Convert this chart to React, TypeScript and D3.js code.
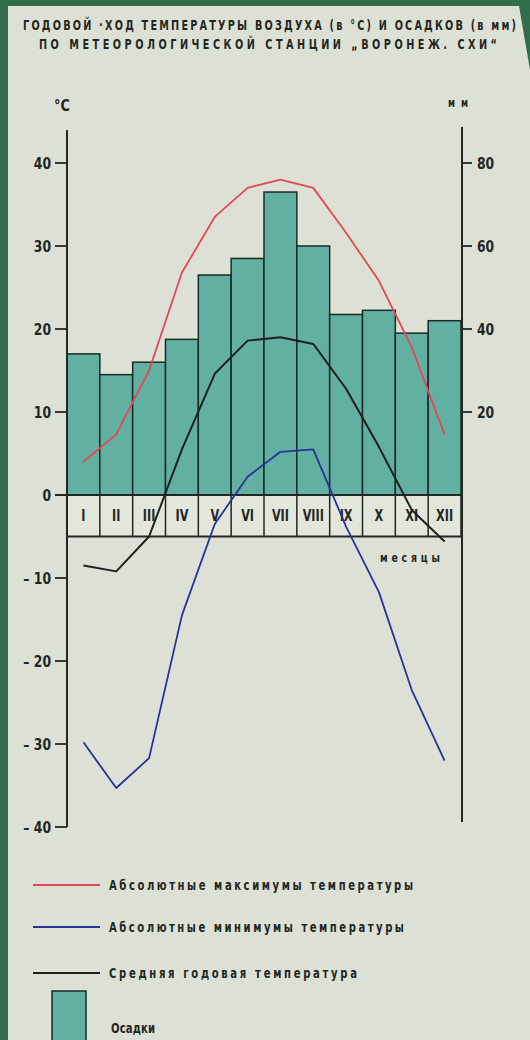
import React from "react";
import * as d3 from "d3";

const months = ["I", "II", "III", "IV", "V", "VI", "VII", "VIII", "IX", "X", "XI", "XII"];
const precipitation = [34, 29, 32, 37.5, 53, 57, 73, 60, 43.5, 44.5, 39, 42];
const absMax = [4, 7.3, 15, 26.8, 33.5, 37, 38, 37, 31.6, 25.8, 17.8, 7.3];
const absMin = [-29.8, -35.3, -31.7, -14.5, -3.5, 2.2, 5.2, 5.5, -3.8, -11.7, -23.5, -32];
const meanTemp = [-8.5, -9.2, -5, 5.5, 14.6, 18.6, 19, 18.2, 12.8, 5.8, -1.8, -5.6];
const tempTicks = [-40, -30, -20, -10, 0, 10, 20, 30, 40];
const tempTickLabels = ["– 40", "– 30", "– 20", "– 10", "0", "10", "20", "30", "40"];
const precTicks = [20, 40, 60, 80];
const titleLines = [
  "ГОДОВОЙ ·ХОД ТЕМПЕРАТУРЫ ВОЗДУХА (в °С) И ОСАДКОВ (в мм)",
  "ПО МЕТЕОРОЛОГИЧЕСКОЙ СТАНЦИИ „ВОРОНЕЖ. СХИ“",
];
const legendItems = [
  { label: "Абсолютные максимумы температуры", key: "max" },
  { label: "Абсолютные минимумы температуры", key: "min" },
  { label: "Средняя годовая температура", key: "mean" },
  { label: "Осадки", key: "prec" },
];

const FONT = "'DejaVu Sans','Liberation Sans',sans-serif";
const INK = "#232723";
const PAPER = "#dde1d5";
const BAR = "#62b0a2";
const RED = "#e2475c";
const BLUE = "#27339a";
const BLACK = "#1f1f1f";

type CTProps = {
  x: number;
  y: number;
  size: number;
  sx?: number;
  len?: number;
  anchor?: "start" | "middle" | "end";
  children: React.ReactNode;
};

function CText({ x, y, size, sx = 0.72, len, anchor = "start", children }: CTProps) {
  const extra: any = {};
  if (len) {
    extra.textLength = len / sx;
    extra.lengthAdjust = "spacing";
  }
  return (
    <text
      transform={`translate(${x},${y}) scale(${sx},1)`}
      fontSize={size}
      fontWeight={700}
      fill={INK}
      textAnchor={anchor}
      {...extra}
    >
      {children}
    </text>
  );
}

export default function App() {
  const x = d3.scaleBand<string>().domain(months).range([67, 461]).paddingInner(0).paddingOuter(0);
  const yT = d3.scaleLinear().domain([-40, 40]).range([827, 163]);
  const yP = d3.scaleLinear().domain([0, 80]).range([yT(0), yT(40)]);
  const cx = (i: number) => (x(months[i]) as number) + x.bandwidth() / 2;

  const line = d3
    .line<number>()
    .x((_, i) => cx(i))
    .y((d) => yT(d))
    .curve(d3.curveLinear);

  const x0 = x.range()[0];
  const x1 = x.range()[1];
  const bandBottom = yT(-5);

  const legendY = [885, 927, 973];
  const legendColors = [RED, BLUE, BLACK];
  const legendLens = [304, 295, 248];

  return (
    <svg
      width={530}
      height={1040}
      style={{ position: "absolute", left: 0, top: 0 }}
      fontFamily={FONT}
    >
      <rect x={0} y={0} width={530} height={1040} fill="#2f6d4b" />
      <polygon points="8,6 519,6 530,70 530,1040 8,1040" fill={PAPER} />

      {/* title */}
      <CText x={23} y={30} size={13.5} len={493}>{titleLines[0]}</CText>
      <CText x={39} y={49} size={13.5} len={458}>{titleLines[1]}</CText>

      {/* axis unit labels */}
      <CText x={62} y={111} size={16} anchor="middle" sx={0.8}>°C</CText>
      <CText x={458} y={107} size={12} anchor="middle" len={20}>мм</CText>

      {/* bars */}
      {precipitation.map((p, i) => (
        <rect
          key={"b" + i}
          x={x(months[i])}
          y={yP(p)}
          width={x.bandwidth()}
          height={yP(0) - yP(p)}
          fill={BAR}
          stroke="#1b2a26"
          strokeWidth={1.5}
        />
      ))}

      {/* month band */}
      <rect x={x0} y={yT(0)} width={x1 - x0} height={bandBottom - yT(0)} fill="#e3e6db" />
      {months.map((m, i) => (
        <line
          key={"mv" + i}
          x1={x(m)}
          x2={x(m)}
          y1={yT(0)}
          y2={bandBottom}
          stroke={INK}
          strokeWidth={1.5}
        />
      ))}
      <line x1={x1} x2={x1} y1={yT(0)} y2={bandBottom} stroke={INK} strokeWidth={1.5} />
      <line x1={x0} x2={x1} y1={bandBottom} y2={bandBottom} stroke={INK} strokeWidth={1.8} />
      <line x1={55} x2={x1} y1={yT(0)} y2={yT(0)} stroke={INK} strokeWidth={1.8} />
      {months.map((m, i) => (
        <CText key={"ml" + i} x={cx(i)} y={yT(0) + 26} size={15} anchor="middle" sx={0.75}>
          {m}
        </CText>
      ))}
      <CText x={410} y={562} size={13} anchor="middle" len={60}>месяцы</CText>

      {/* left axis */}
      <line x1={67} x2={67} y1={130} y2={yT(-40)} stroke={INK} strokeWidth={2} />
      {tempTicks.map((t, i) => (
        <g key={"lt" + t}>
          <line x1={55} x2={67} y1={yT(t)} y2={yT(t)} stroke={INK} strokeWidth={1.8} />
          <CText x={51} y={yT(t) + 6} size={16.5} anchor="end" sx={0.75}>
            {tempTickLabels[i]}
          </CText>
        </g>
      ))}

      {/* right axis */}
      <line x1={462} x2={462} y1={127} y2={822} stroke={INK} strokeWidth={2} />
      {precTicks.map((t) => (
        <g key={"rt" + t}>
          <line x1={462} x2={472} y1={yP(t)} y2={yP(t)} stroke={INK} strokeWidth={1.8} />
          <CText x={477} y={yP(t) + 6} size={16.5} sx={0.75}>
            {t}
          </CText>
        </g>
      ))}

      {/* lines */}
      <path d={line(meanTemp) || ""} fill="none" stroke={BLACK} strokeWidth={2} strokeLinejoin="round" />
      <path d={line(absMin) || ""} fill="none" stroke={BLUE} strokeWidth={1.8} strokeLinejoin="round" />
      <path d={line(absMax) || ""} fill="none" stroke={RED} strokeWidth={1.8} strokeLinejoin="round" />

      {/* legend */}
      {legendItems.slice(0, 3).map((item, i) => (
        <g key={item.key}>
          <line x1={33} x2={100} y1={legendY[i]} y2={legendY[i]} stroke={legendColors[i]} strokeWidth={1.8} />
          <CText x={109} y={legendY[i] + 5} size={14} len={legendLens[i]}>
            {item.label}
          </CText>
        </g>
      ))}
      <rect x={52} y={991} width={34} height={60} fill={BAR} stroke="#1b2a26" strokeWidth={1.5} />
      <CText x={111} y={1033} size={14} len={44}>{legendItems[3].label}</CText>
    </svg>
  );
}
